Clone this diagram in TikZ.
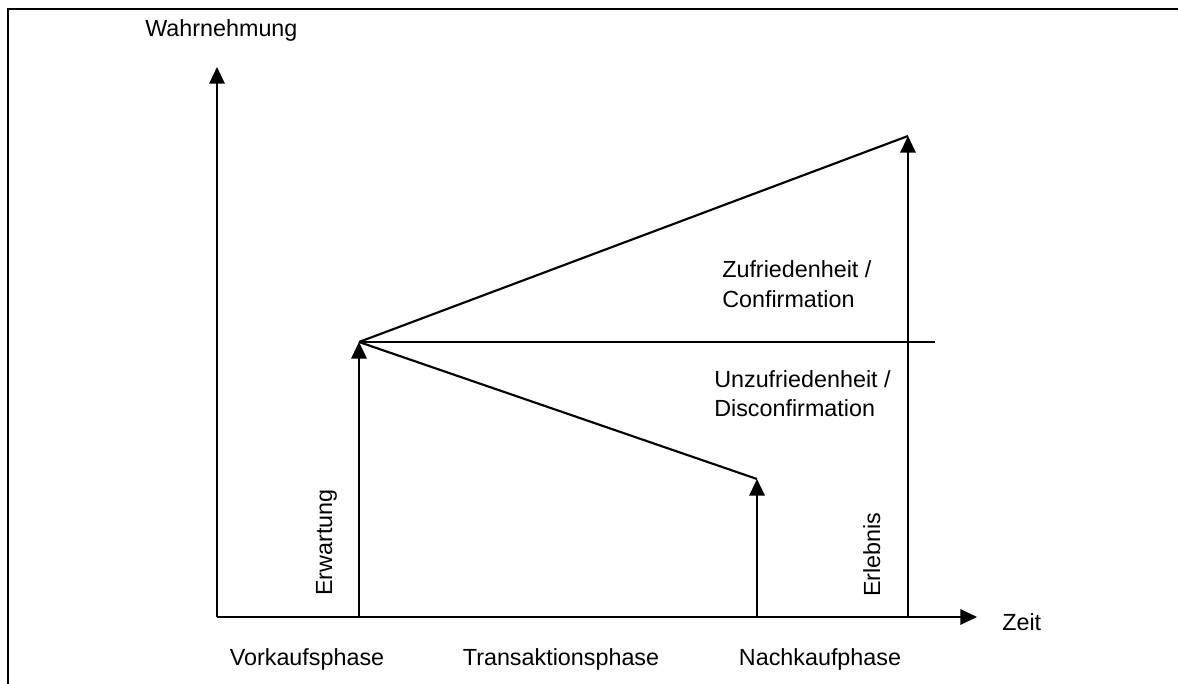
\documentclass[tikz,border=0pt]{standalone}
\usepackage{fontspec}
\setmainfont{Liberation Sans}
\usetikzlibrary{arrows.meta}
\begin{document}
\begin{tikzpicture}[x=0.75pt,y=-0.75pt,
  axis/.style={line width=1.6pt,-{Triangle[length=12.5pt,width=11.5pt]}},
  arr/.style={line width=1.6pt,-{Triangle[length=12.5pt,width=11.5pt]}},
  trend/.style={line width=1.6pt},
  thin/.style={line width=1pt},
  frame/.style={line width=1.5pt},
  lbl/.style={font=\fontsize{17.5}{21.75}\selectfont,inner sep=0pt}]
\useasboundingbox (0,0) rectangle (1178,684);

% partial frame (top and left edge)
\draw[frame] (7,9.5) -- (1178,9.5);
\draw[line width=1.2pt] (8,9) -- (8,684);

% key points
\coordinate (O) at (217,617);
\coordinate (ytop) at (217,67);
\coordinate (xend) at (977,617);
\coordinate (E0) at (359,617);
\coordinate (E1) at (359,342);
\coordinate (N0) at (757,617);
\coordinate (N1) at (757,479);
\coordinate (L0) at (908,617);
\coordinate (L1) at (908,136);
\coordinate (H) at (935,342);

% axes
\draw[axis] (O) -- (ytop);
\draw[axis] (O) -- (xend);

% expectation and experience arrows
\draw[arr] (E0) -- (E1);
\draw[arr] (N0) -- (N1);
\draw[arr] (L0) -- (L1);

% trend lines and reference level
\draw[trend] (E1) -- (L1);
\draw[trend] (E1) -- (N1);
\draw[thin] (E1) -- (H);

% labels
\node[lbl,anchor=base west] (wahr) at (145,37) {Wahrnehmung};
\node[lbl,anchor=base west] (zeit) at (1002,630) {Zeit};
\node[lbl,anchor=base west] (zuf1) at (722,278) {Zufriedenheit /};
\node[lbl,anchor=base west] (zuf2) at (722,307) {Confirmation};
\node[lbl,anchor=base west] (unz1) at (714,387) {Unzufriedenheit /};
\node[lbl,anchor=base west] (unz2) at (714,416) {Disconfirmation};
\node[lbl,anchor=base west,rotate=90] (erw) at (332,596) {Erwartung};
\node[lbl,anchor=base west,rotate=90] (erl) at (880,597) {Erlebnis};
\node[lbl,anchor=base] (vk) at (307,665) {Vorkaufsphase};
\node[lbl,anchor=base] (tr) at (561,665) {Transaktionsphase};
\node[lbl,anchor=base] (nk) at (820,665) {Nachkaufphase};
\end{tikzpicture}
\end{document}
